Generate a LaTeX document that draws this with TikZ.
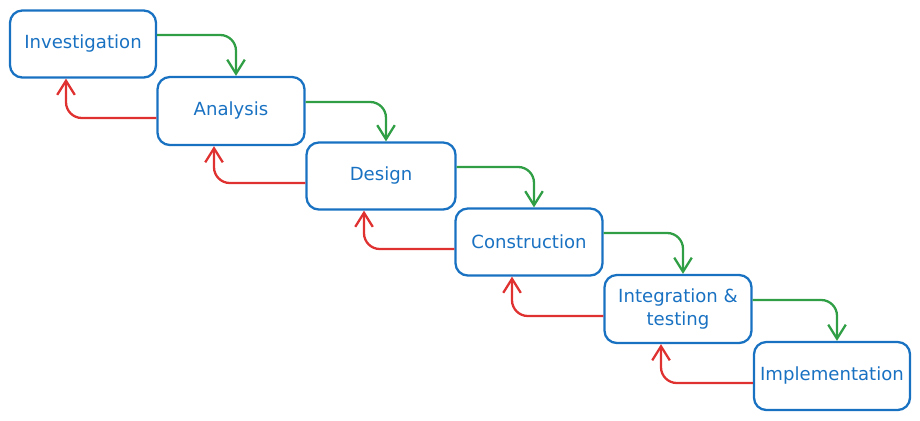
\documentclass[tikz,border=0pt]{standalone}
\usepackage{fontspec}
\setmainfont{DejaVu Sans}
\usetikzlibrary{arrows.meta}
\usetikzlibrary{positioning}

\definecolor{stepblue}{HTML}{1971C2}
\definecolor{fwdgreen}{HTML}{2F9E44}
\definecolor{backred}{HTML}{E03131}

\begin{document}
\begin{tikzpicture}[x = 0.02cm, y = -0.02cm, line width = 1.3pt,
    phase/.style = {draw = stepblue, rounded corners = 7pt, text = stepblue,
        align = center, inner sep = 0pt, font = \fontsize{10.3}{13}\selectfont},
    fwd/.style = {draw = fwdgreen, rounded corners = 9pt, -{Straight Barb[length = 8pt, width = 10pt]}},
    back/.style = {draw = backred, rounded corners = 9pt, -{Straight Barb[length = 8pt, width = 10pt]}}]

    \def\u{0.02cm}

    \useasboundingbox (0,0) rectangle (920,420);

    % the phases
    \node[phase, minimum width = 146*\u, minimum height = 67*\u] (inv) at (83,44)  {Investigation};
    \node[phase, minimum width = 147*\u, minimum height = 68*\u] (ana) at (231,111) {Analysis};
    \node[phase, minimum width = 149*\u, minimum height = 67*\u] (des) at (381,176) {Design};
    \node[phase, minimum width = 147*\u, minimum height = 67*\u] (con) at (529,242) {Construction};
    \node[phase, minimum width = 147*\u, minimum height = 68*\u] (int) at (678,309) {Integration \&\\testing};
    \node[phase, minimum width = 156*\u, minimum height = 68*\u] (imp) at (832,376) {Implementation};

    % forward and back steps
    \foreach \A/\B in {inv/ana, ana/des, des/con, con/int, int/imp} {
        \draw[fwd]  ([yshift = 9*\u]\A.east) -| ([xshift = 5*\u]\B.north);
        \draw[back] ([yshift = -7*\u]\B.west) -| ([xshift = -17*\u]\A.south);
    }

\end{tikzpicture}
\end{document}
